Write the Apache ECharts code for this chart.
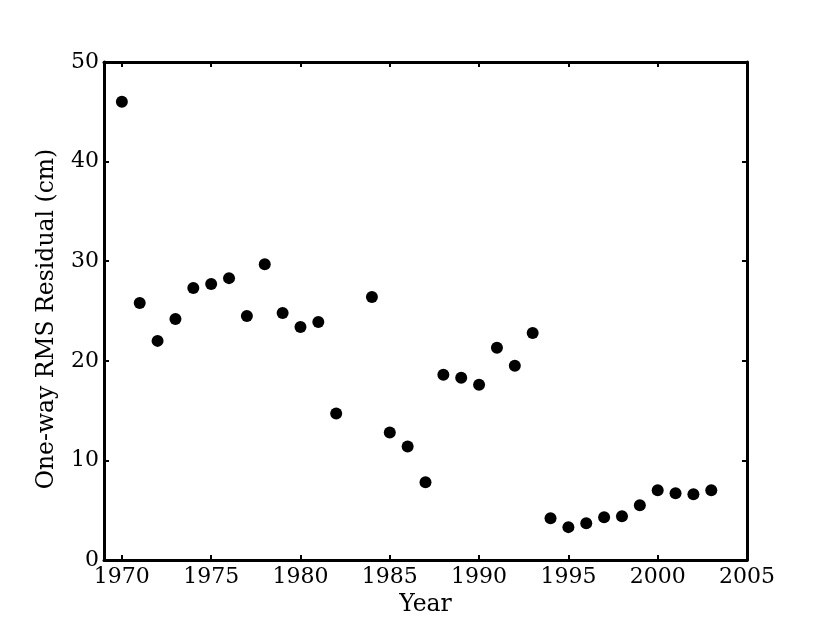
<!DOCTYPE html>
<html>
<head>
<meta charset="utf-8">
<script src="https://cdn.jsdelivr.net/npm/echarts@6/dist/echarts.min.js"></script>
<style>
  html, body { margin: 0; padding: 0; background: #fff; }
  #chart { width: 830px; height: 623px; }
</style>
</head>
<body>
<div id="chart"></div>
<script>
// years and residuals
const years = [1970, 1971, 1972, 1973, 1974, 1975, 1976, 1977, 1978, 1979, 1980, 1981, 1982,
  1984, 1985, 1986, 1987, 1988, 1989, 1990, 1991, 1992, 1993,
  1994, 1995, 1996, 1997, 1998, 1999, 2000, 2001, 2002, 2003];
const residuals = [46.0, 25.8, 22.0, 24.2, 27.3, 27.7, 28.3, 24.5, 29.7, 24.8, 23.4, 23.9, 14.7,
  26.4, 12.8, 11.4, 7.8, 18.6, 18.3, 17.6, 21.3, 19.5, 22.8,
  4.2, 3.3, 3.7, 4.3, 4.4, 5.5, 7.0, 6.7, 6.6, 7.0];
const xTicks = [1970, 1975, 1980, 1985, 1990, 1995, 2000, 2005];

const font = 'DejaVu Serif';
let chart = echarts.init(document.getElementById('chart'));

const axisLine = { show: true, onZero: false, lineStyle: { color: '#000', width: 3 } };
const tick = { show: true, inside: true, length: 5, lineStyle: { color: '#000', width: 2 } };

let option = {
  animation: false,
  grid: { left: 104, right: 83, top: 62, bottom: 63 },
  xAxis: [
    {
      type: 'value', min: 1969, max: 2005, position: 'bottom',
      name: 'Year', nameLocation: 'middle', nameGap: 30,
      nameTextStyle: { fontFamily: font, fontSize: 23.5, color: '#000' },
      axisLine: axisLine,
      axisTick: Object.assign({ customValues: xTicks }, tick),
      axisLabel: {
        customValues: xTicks, fontFamily: font, fontSize: 22, color: '#000', margin: 6,
        formatter: v => String(v)
      },
      splitLine: { show: false }
    },
    {
      type: 'value', min: 1969, max: 2005, position: 'top',
      axisLine: axisLine,
      axisTick: Object.assign({ customValues: xTicks }, tick),
      axisLabel: { show: false },
      splitLine: { show: false }
    }
  ],
  yAxis: [
    {
      type: 'value', min: 0, max: 50, interval: 10, position: 'left',
      name: 'One-way RMS Residual (cm)', nameLocation: 'middle', nameGap: 45,
      nameTextStyle: { fontFamily: font, fontSize: 23.5, color: '#000', padding: [0, 16, 0, 0] },
      axisLine: axisLine,
      axisTick: tick,
      axisLabel: { fontFamily: font, fontSize: 22, color: '#000', margin: 5 },
      splitLine: { show: false }
    },
    {
      type: 'value', min: 0, max: 50, interval: 10, position: 'right',
      axisLine: axisLine,
      axisTick: tick,
      axisLabel: { show: false },
      splitLine: { show: false }
    }
  ],
  series: [
    {
      type: 'scatter',
      symbol: 'circle',
      symbolSize: 12,
      itemStyle: { color: '#000', opacity: 1 },
      data: years.map((y, i) => [y, residuals[i]])
    }
  ]
};
chart.setOption(option);
</script>
</body>
</html>
